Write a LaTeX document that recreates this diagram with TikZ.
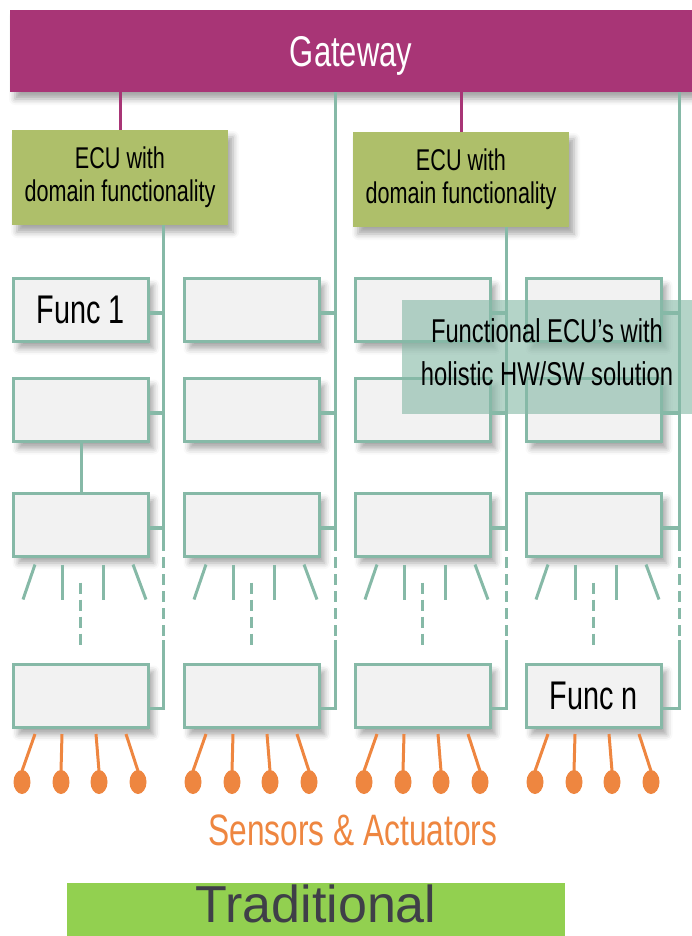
\documentclass[tikz,border=0pt]{standalone}
\usepackage{fontspec}
\setmainfont{Liberation Sans}
\newfontfamily\narrowfont[FakeStretch=0.72]{Liberation Sans}
\usetikzlibrary{shadows.blur}
\definecolor{gwred}{HTML}{A83576}
\definecolor{ecugreen}{HTML}{AEBF6A}
\definecolor{busteal}{HTML}{86B9A7}
\definecolor{boxgray}{HTML}{F2F2F2}
\definecolor{sensor}{HTML}{EE8640}
\definecolor{tradgreen}{HTML}{92D050}
\definecolor{tradtext}{HTML}{3F3F48}
\tikzstyle{softshadow}=[blur shadow={shadow xshift=5pt, shadow yshift=-7pt, shadow blur radius=6pt, shadow opacity=35}]
\tikzstyle{func}=[rectangle, draw=busteal, fill=boxgray, line width=3pt, minimum width=135pt, minimum height=63pt, inner sep=0pt, softshadow, font=\narrowfont\fontsize{40}{46}\selectfont]
\tikzstyle{ecu}=[rectangle, fill=ecugreen, minimum width=216pt, minimum height=95pt, align=center, softshadow, font=\narrowfont\fontsize{30}{33}\selectfont]
\tikzstyle{bus}=[draw=busteal, line width=3pt]
\tikzstyle{stub}=[draw=busteal, line width=4pt]
\tikzstyle{wire}=[draw=sensor, line width=3pt]
\tikzstyle{dash12}=[dash pattern=on 11pt off 6pt]
\newcommand{\func}{\node[func]}

\begin{document}
\begin{tikzpicture}[x=1pt, y=-1pt]
\useasboundingbox (0,0) rectangle (692,936);
\clip (0,0) rectangle (692,936);

\node[rectangle, fill=gwred, minimum width=682pt, minimum height=82pt, text depth=0pt, text=white, softshadow, font=\narrowfont\fontsize{43}{50}\selectfont] (gw) at (351,51) {Gateway};
\node[ecu] (ecuA) at (120,177.5) {ECU with\\domain functionality};
\node[ecu] (ecuB) at (461,179.5) {ECU with\\domain functionality};
\draw[draw=gwred, line width=3pt] (gw.south -| ecuA.north) -- (ecuA.north);
\draw[draw=gwred, line width=3pt] (gw.south -| ecuB.north) -- (ecuB.north);

% four columns of functional ECUs
\foreach \i/\cx in {1/81, 2/252, 3/423, 4/594} {
  \func (box-\i-1) at (\cx,310) {};
  \func (box-\i-2) at (\cx,410) {};
  \func (box-\i-3) at (\cx,524.5) {};
  \func (box-\i-4) at (\cx,696) {};
}
\node[font=\narrowfont\fontsize{40}{46}\selectfont] at (box-1-1) {Func 1};
\node[font=\narrowfont\fontsize{40}{46}\selectfont] at (box-4-4) {Func n};
\draw[bus] (box-1-2.south) -- (box-1-3.north);

% buses
\foreach \i/\bx/\top in {1/163/ecuA, 2/335/gw, 3/506/ecuB, 4/679/gw} {
  \coordinate (b\i) at (\bx,540);
  \draw[bus] (\top.south -| b\i) -- (b\i);
  \draw[bus, dash12] (b\i) -- ++(0,100);
  \draw[bus] ([yshift=-100pt]b\i) -- ++(0,68) -- ([yshift=-12pt]box-\i-4.east);
  \draw[stub] ([yshift=-3pt]box-\i-1.east) -- ([yshift=-3pt]box-\i-1.east -| b\i);
  \draw[stub] ([yshift=-3pt]box-\i-2.east) -- ([yshift=-3pt]box-\i-2.east -| b\i);
  \draw[stub] ([yshift=-3pt]box-\i-3.east) -- ([yshift=-3pt]box-\i-3.east -| b\i);
  % lines below the third row
  \foreach \dx/\ex in {-46/-12, -19/0, 22/0, 52/13}
    \draw[bus] ([shift={(\dx,7)}]box-\i-3.south) -- ++(\ex,35);
  \draw[bus, dash12] ([shift={(-1,25)}]box-\i-3.south) -- ++(0,65);
  % sensors and actuators
  \foreach \dx/\ex in {-46/-13, -19/-1, 15/3, 45/12} {
    \draw[wire] ([shift={(\dx,5)}]box-\i-4.south) -- ++(\ex,37);
    \fill[sensor] ([shift={({\dx+\ex},53)}]box-\i-4.south) ellipse (8.5pt and 12pt);
  }
}

\node[rectangle, fill=busteal, fill opacity=0.62, minimum width=290pt, minimum height=114pt] (holistic) at (547,357) {};
\node[align=center, font=\narrowfont\fontsize{33}{43}\selectfont] at ([yshift=5pt]holistic.center) {Functional ECU’s with\\holistic HW/SW solution};

\node[text=sensor, font=\narrowfont\fontsize{44}{50}\selectfont] (sa) at (353,830) {Sensors \& Actuators};
\node[rectangle, fill=tradgreen, minimum width=498pt, minimum height=53pt, inner sep=0pt, text depth=12pt, text=tradtext, font=\fontsize{52}{60}\selectfont] (trad) at (316,909.5) {Traditional};
\end{tikzpicture}
\end{document}
